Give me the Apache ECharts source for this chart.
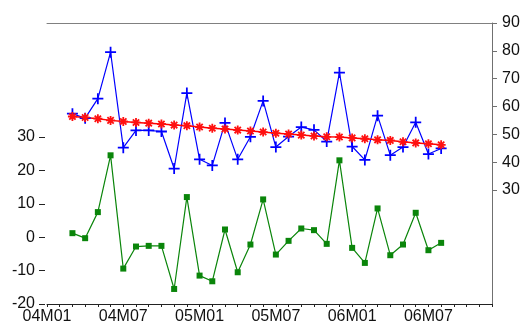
<!DOCTYPE html>
<html>
<head>
<meta charset="utf-8">
<script src="https://cdn.jsdelivr.net/npm/echarts@6/dist/echarts.min.js"></script>
<style>
html,body{margin:0;padding:0;background:#fff;}
#c{width:523px;height:326px;}
</style>
</head>
<body>
<div id="c"></div>
<script>
// Categories: monthly 04M01 .. 06M12
const categories = [];
for (let y = 4; y <= 6; y++) {
  for (let m = 1; m <= 12; m++) {
    categories.push('0' + y + 'M' + (m < 10 ? '0' + m : '' + m));
  }
}
// data starts at 04M03, 30 observations (04M03 .. 06M08)
const startIndex = 2;

const blueValues = [57.4, 55.8, 62.8, 79.5, 45.2, 51.4, 51.4, 51.0, 37.7, 64.8,
                    41.0, 38.8, 54.1, 41.0, 49.1, 62.0, 45.4, 49.2, 52.6, 51.6,
                    47.4, 72.2, 45.6, 40.8, 56.7, 42.5, 45.4, 54.3, 42.9, 44.9];
const redValues = [56.4, 56.05, 55.6, 55.0, 54.6, 54.25, 54.0, 53.7, 53.3, 53.1,
                   52.6, 52.2, 51.9, 51.5, 51.2, 50.8, 50.4, 50.1, 49.7, 49.4,
                   49.1, 49.0, 48.7, 48.4, 48.0, 47.8, 47.3, 46.9, 46.6, 46.2];
const greenValues = [1.2, -0.3, 7.5, 24.5, -9.4, -2.8, -2.6, -2.6, -15.5, 12.0,
                     -11.5, -13.2, 2.3, -10.5, -2.2, 11.3, -5.2, -1.1, 2.6, 2.1,
                     -2.0, 23.0, -3.2, -7.7, 8.6, -5.4, -2.2, 7.3, -3.9, -1.7];

const leftTicks = [-20, -10, 0, 10, 20, 30];
const rightTicks = [30, 40, 50, 60, 70, 80, 90];

function toPairs(vals) {
  return vals.map((v, i) => [categories[startIndex + i], v]);
}

const plusPath = 'path://M4.2,0h1.6v4.2h4.2v1.6h-4.2v4.2h-1.6v-4.2h-4.2v-1.6h4.2z';
const starPath = 'path://M4,0L6,0L6,10L4,10Z M0,4L10,4L10,6L0,6Z ' +
  'M2.21,0.79L9.21,7.79L7.79,9.21L0.79,2.21Z M7.79,0.79L9.21,2.21L2.21,9.21L0.79,7.79Z';

const chart = echarts.init(document.getElementById('c'), null, {renderer: 'canvas'});
const font = 'Liberation Sans, Arial, sans-serif';
chart.setOption({
  animation: false,
  backgroundColor: '#ffffff',
  grid: {left: 47, right: 31, top: 23, bottom: 22, containLabel: false},
  xAxis: [{
    type: 'category',
    data: categories,
    boundaryGap: false,
    position: 'bottom',
    axisLine: {show: true, onZero: false, lineStyle: {color: '#222', width: 1}},
    axisTick: {show: true, interval: 0, length: 3, inside: false, lineStyle: {color: '#222'}},
    axisLabel: {interval: 5, margin: 5, color: '#111', fontSize: 16, fontFamily: font},
    splitLine: {show: false}
  }, {
    type: 'category',
    data: categories,
    boundaryGap: false,
    position: 'top',
    axisLine: {show: true, onZero: false, lineStyle: {color: '#808080', width: 1}},
    axisTick: {show: false},
    axisLabel: {show: false},
    splitLine: {show: false}
  }],
  yAxis: [{
    type: 'value',
    position: 'left',
    min: -20,
    max: 64.1,
    offset: 2,
    axisLine: {show: false, onZero: false},
    axisTick: {show: true, length: 6, customValues: leftTicks, lineStyle: {color: '#222'}},
    axisLabel: {customValues: leftTicks, margin: 10, color: '#111', fontSize: 16, fontFamily: font},
    splitLine: {show: false}
  }, {
    type: 'value',
    position: 'right',
    min: -11,
    max: 90,
    axisLine: {show: true, onZero: false, lineStyle: {color: '#707070', width: 1}},
    axisTick: {show: true, length: 5, customValues: rightTicks, lineStyle: {color: '#707070'}},
    axisLabel: {customValues: rightTicks, margin: 10, color: '#111', fontSize: 16, fontFamily: font},
    splitLine: {show: false}
  }],
  series: [{
    type: 'line',
    name: 'green',
    yAxisIndex: 0,
    data: toPairs(greenValues),
    symbol: 'rect',
    symbolSize: 6,
    showAllSymbol: true,
    lineStyle: {color: '#0a850a', width: 1.2},
    itemStyle: {color: '#0a850a'}
  }, {
    type: 'line',
    name: 'blue',
    yAxisIndex: 1,
    data: toPairs(blueValues),
    symbol: plusPath,
    symbolSize: 11,
    showAllSymbol: true,
    lineStyle: {color: '#0000ff', width: 1.2},
    itemStyle: {color: '#0000ff'}
  }, {
    type: 'line',
    name: 'red',
    yAxisIndex: 1,
    data: toPairs(redValues),
    symbol: starPath,
    symbolSize: 9,
    showAllSymbol: true,
    lineStyle: {color: '#ff0000', width: 1.5},
    itemStyle: {color: '#ff1010'}
  }]
});
</script>
</body>
</html>
